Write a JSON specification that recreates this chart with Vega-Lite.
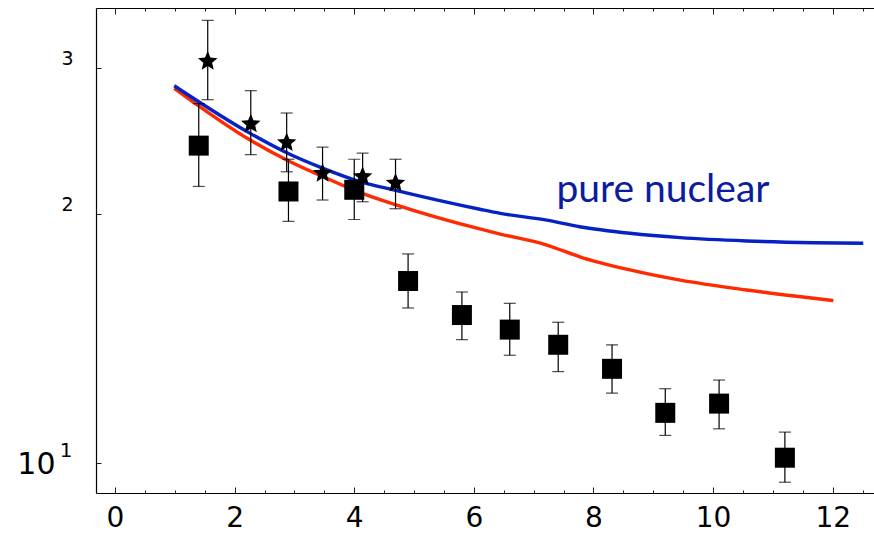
{
  "$schema": "https://vega.github.io/schema/vega-lite/v6.json",
  "autosize": {"type": "none"},
  "padding": {"left": 96, "top": 8, "right": 0, "bottom": 42},
  "width": 778,
  "height": 485,
  "background": "white",
  "config": {"view": {"stroke": null}},
  "datasets": {
    "curves": [
      {"series": "full", "x": 0.99, "y": 28.39},
      {"series": "full", "x": 2.26, "y": 24.58},
      {"series": "full", "x": 2.87, "y": 23.25},
      {"series": "full", "x": 3.48, "y": 22.19},
      {"series": "full", "x": 4.10, "y": 21.23},
      {"series": "full", "x": 4.71, "y": 20.51},
      {"series": "full", "x": 6.10, "y": 19.19},
      {"series": "full", "x": 6.44, "y": 18.92},
      {"series": "full", "x": 7.22, "y": 18.35},
      {"series": "full", "x": 7.77, "y": 17.76},
      {"series": "full", "x": 8.61, "y": 17.12},
      {"series": "full", "x": 9.45, "y": 16.64},
      {"series": "full", "x": 10.56, "y": 16.19},
      {"series": "full", "x": 11.68, "y": 15.82},
      {"series": "full", "x": 12.01, "y": 15.72},
      {"series": "pure nuclear", "x": 0.99, "y": 28.59},
      {"series": "pure nuclear", "x": 2.26, "y": 25.04},
      {"series": "pure nuclear", "x": 2.87, "y": 23.73},
      {"series": "pure nuclear", "x": 3.48, "y": 22.72},
      {"series": "pure nuclear", "x": 4.10, "y": 21.89},
      {"series": "pure nuclear", "x": 4.71, "y": 21.35},
      {"series": "pure nuclear", "x": 6.10, "y": 20.27},
      {"series": "pure nuclear", "x": 6.44, "y": 20.04},
      {"series": "pure nuclear", "x": 7.22, "y": 19.67},
      {"series": "pure nuclear", "x": 7.77, "y": 19.31},
      {"series": "pure nuclear", "x": 8.61, "y": 18.96},
      {"series": "pure nuclear", "x": 9.45, "y": 18.73},
      {"series": "pure nuclear", "x": 10.56, "y": 18.56},
      {"series": "pure nuclear", "x": 11.68, "y": 18.47},
      {"series": "pure nuclear", "x": 12.51, "y": 18.44}
    ],
    "points": [
      {"kind": "star", "x": 1.55, "y": 30.6, "lo": 27.5, "hi": 34.3},
      {"kind": "star", "x": 2.27, "y": 25.7, "lo": 23.6, "hi": 28.2},
      {"kind": "star", "x": 2.87, "y": 24.4, "lo": 22.5, "hi": 26.5},
      {"kind": "star", "x": 3.47, "y": 22.4, "lo": 20.8, "hi": 24.1},
      {"kind": "star", "x": 4.14, "y": 22.2, "lo": 20.7, "hi": 23.7},
      {"kind": "star", "x": 4.69, "y": 21.8, "lo": 20.3, "hi": 23.3},
      {"kind": "square", "x": 1.40, "y": 24.2, "lo": 21.6, "hi": 27.2},
      {"kind": "square", "x": 2.90, "y": 21.3, "lo": 19.6, "hi": 23.3},
      {"kind": "square", "x": 4.00, "y": 21.4, "lo": 19.7, "hi": 23.3},
      {"kind": "square", "x": 4.90, "y": 16.6, "lo": 15.4, "hi": 17.9},
      {"kind": "square", "x": 5.80, "y": 15.1, "lo": 14.1, "hi": 16.1},
      {"kind": "square", "x": 6.60, "y": 14.5, "lo": 13.5, "hi": 15.6},
      {"kind": "square", "x": 7.41, "y": 13.9, "lo": 12.9, "hi": 14.8},
      {"kind": "square", "x": 8.31, "y": 13.0, "lo": 12.15, "hi": 13.9},
      {"kind": "square", "x": 9.20, "y": 11.5, "lo": 10.8, "hi": 12.3},
      {"kind": "square", "x": 10.10, "y": 11.8, "lo": 11.0, "hi": 12.6},
      {"kind": "square", "x": 11.20, "y": 10.15, "lo": 9.48, "hi": 10.9}
    ],
    "labels": [
      {"x": 7.38, "y": 20.7, "label": "pure nuclear"}
    ]
  },
  "resolve": {"axis": {"x": "independent", "y": "independent"}},
  "layer": [
    {
      "data": {"name": "curves"},
      "transform": [{"filter": "datum.series == 'full'"}],
      "mark": {"type": "line", "color": "#ff2a00", "strokeWidth": 3.4, "interpolate": "monotone"},
      "encoding": {
        "x": {
          "field": "x", "type": "quantitative",
          "scale": {"domain": [-0.318, 12.69], "nice": false, "zero": false},
          "axis": {
            "orient": "bottom", "title": null, "grid": false,
            "values": [0, 0.5, 1, 1.5, 2, 2.5, 3, 3.5, 4, 4.5, 5, 5.5, 6, 6.5, 7, 7.5, 8, 8.5, 9, 9.5, 10, 10.5, 11, 11.5, 12, 12.5],
            "labelExpr": "datum.value % 2 == 0 ? format(datum.value, 'd') : ''",
            "labelFont": "DejaVu Sans", "labelFontSize": 28, "labelColor": "black",
            "labelFlush": false, "labelOverlap": false, "labelPadding": 17,
            "domainColor": "black", "domainWidth": 1.2,
            "tickColor": "#222", "tickWidth": 1,
            "tickSize": {"condition": {"test": "datum.value % 2 == 0", "value": -6}, "value": -3}
          }
        },
        "y": {
          "field": "y", "type": "quantitative",
          "scale": {"type": "log", "domain": [9.2, 35.5], "nice": false, "zero": false},
          "axis": {
            "orient": "left", "title": null, "grid": false,
            "values": [10, 20, 30],
            "labelExpr": "datum.value == 10 ? '10' : datum.value == 20 ? '2' : '3'",
            "labelFont": "DejaVu Sans",
            "labelFontSize": {"condition": {"test": "datum.value == 10", "value": 30}, "value": 19},
            "labelOffset": {"condition": {"test": "datum.value == 10", "value": 1}, "value": -10},
            "labelPadding": {"condition": {"test": "datum.value == 10", "value": 46}, "value": 28},
            "labelColor": "black",
            "domainColor": "black", "domainWidth": 1.2,
            "tickColor": "#222", "tickWidth": 1, "tickSize": -5
          }
        }
      }
    },
    {
      "data": {"name": "curves"},
      "transform": [{"filter": "datum.series == 'pure nuclear'"}],
      "mark": {"type": "line", "color": "#0622c4", "strokeWidth": 3.4, "interpolate": "monotone"},
      "encoding": {
        "x": {
          "field": "x", "type": "quantitative",
          "axis": {
            "orient": "top", "title": null, "grid": false, "labels": false,
            "values": [0, 0.5, 1, 1.5, 2, 2.5, 3, 3.5, 4, 4.5, 5, 5.5, 6, 6.5, 7, 7.5, 8, 8.5, 9, 9.5, 10, 10.5, 11, 11.5, 12, 12.5],
            "domainColor": "black", "domainWidth": 1.2,
            "tickColor": "#222", "tickWidth": 1,
            "tickSize": {"condition": {"test": "datum.value % 2 == 0", "value": -6}, "value": -3}
          }
        },
        "y": {
          "field": "y", "type": "quantitative",
          "axis": {
            "orient": "left", "title": null, "grid": false,
            "values": [10],
            "labelExpr": "'1'",
            "labelFont": "DejaVu Sans", "labelFontSize": 20, "labelColor": "black",
            "labelOffset": -13, "labelPadding": 24,
            "domain": false, "ticks": false, "tickSize": 0
          }
        }
      }
    },
    {
      "data": {"name": "points"},
      "mark": {"type": "rule", "color": "black", "strokeWidth": 1.2},
      "encoding": {
        "x": {"field": "x", "type": "quantitative", "axis": null},
        "y": {"field": "lo", "type": "quantitative", "axis": null},
        "y2": {"field": "hi"}
      }
    },
    {
      "data": {"name": "points"},
      "mark": {"type": "tick", "orient": "horizontal", "color": "black", "size": 12, "thickness": 1.2},
      "encoding": {
        "x": {"field": "x", "type": "quantitative", "axis": null},
        "y": {"field": "lo", "type": "quantitative", "axis": null}
      }
    },
    {
      "data": {"name": "points"},
      "mark": {"type": "tick", "orient": "horizontal", "color": "black", "size": 12, "thickness": 1.2},
      "encoding": {
        "x": {"field": "x", "type": "quantitative", "axis": null},
        "y": {"field": "hi", "type": "quantitative", "axis": null}
      }
    },
    {
      "data": {"name": "points"},
      "transform": [{"filter": "datum.kind == 'square'"}],
      "mark": {"type": "point", "shape": "square", "filled": true, "color": "black", "size": 400, "opacity": 1},
      "encoding": {
        "x": {"field": "x", "type": "quantitative", "axis": null},
        "y": {"field": "y", "type": "quantitative", "axis": null}
      }
    },
    {
      "data": {"name": "points"},
      "transform": [{"filter": "datum.kind == 'star'"}],
      "mark": {"type": "point", "shape": "M0,-1L0.265,-0.364L0.951,-0.309L0.428,0.139L0.588,0.809L0,0.45L-0.588,0.809L-0.428,0.139L-0.951,-0.309L-0.265,-0.364Z", "filled": true, "color": "black", "size": 420, "opacity": 1},
      "encoding": {
        "x": {"field": "x", "type": "quantitative", "axis": null},
        "y": {"field": "y", "type": "quantitative", "axis": null}
      }
    },
    {
      "data": {"name": "labels"},
      "mark": {"type": "text", "align": "left", "baseline": "alphabetic", "font": "Lato", "fontSize": 39, "color": "#0b1c9e"},
      "encoding": {
        "x": {"field": "x", "type": "quantitative", "axis": null},
        "y": {"field": "y", "type": "quantitative", "axis": null},
        "text": {"field": "label"}
      }
    }
  ]
}
